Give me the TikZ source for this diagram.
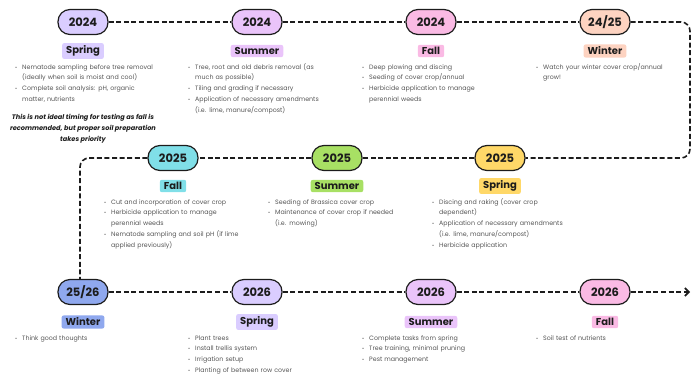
\documentclass[tikz,border=0pt]{standalone}
\usepackage{fontspec}
\setmainfont{Poppins}
\usepackage{enumitem}
\usetikzlibrary{arrows.meta, positioning, calc}
\definecolor{Ink}{RGB}{28, 28, 28}
\definecolor{Body}{RGB}{85, 85, 85}
\definecolor{Lilac}{RGB}{218, 205, 255}
\definecolor{Orchid}{RGB}{234, 196, 250}
\definecolor{Blush}{RGB}{250, 186, 228}
\definecolor{Peach}{RGB}{253, 211, 193}
\definecolor{Aqua}{RGB}{128, 223, 232}
\definecolor{Lime}{RGB}{168, 224, 100}
\definecolor{Butter}{RGB}{255, 216, 104}
\definecolor{Cornflower}{RGB}{143, 168, 238}
\tikzset{
  yearpill/.style={draw=Ink, line width=1.2pt, rounded corners=12pt, minimum width=50pt,
    minimum height=25pt, inner sep=0pt, font=\bfseries\fontsize{11.5}{13}\selectfont, text=Ink},
  seasontag/.style={rounded corners=2pt, inner xsep=4pt, inner ysep=2.5pt,
    font=\bfseries\fontsize{10}{11}\selectfont, text=Ink},
  tasklist/.style={anchor=north west, text width=180pt, align=left, inner sep=0pt,
    font=\fontsize{6.3}{10.8}\selectfont, text=Body},
  timeline/.style={Ink, line width=1.6pt, dash pattern=on 5pt off 2.6pt}
}
\newcommand{\tasks}[1]{\begin{itemize}[leftmargin=10pt, labelsep=5pt, itemsep=0pt, topsep=0pt,
  parsep=0pt, partopsep=0pt, label={\tiny\textbullet}]#1\end{itemize}}

\begin{document}
\begin{tikzpicture}[x=1pt, y=-1pt]
  \useasboundingbox (0,0) rectangle (699,375);
  % Row 1: 2024
  \node[yearpill, fill=Lilac] (sp24) at (83,22) {2024};
  \node[yearpill, fill=Orchid] (su24) at (257,22) {2024};
  \node[yearpill, fill=Blush] (fa24) at (431,22) {2024};
  \node[yearpill, fill=Peach] (wi24) at (605,22) {24/25};
  \node[seasontag, fill=Lilac] (sp24tag) at (83,51) {Spring};
  \node[seasontag, fill=Orchid] (su24tag) at (257,51) {Summer};
  \node[seasontag, fill=Blush] (fa24tag) at (431,51) {Fall};
  \node[seasontag, fill=Peach] (wi24tag) at (605,51) {Winter};
  \node[tasklist] (sp24list) at (12,58) {\tasks{
    \item Nematode sampling before tree removal\\(ideally when soil is moist and cool)
    \item Complete soil analysis: pH, organic\\matter, nutrients}};
  \node[tasklist] (su24list) at (185,58) {\tasks{
    \item Tree, root and old debris removal (as\\much as possible)
    \item Tiling and grading if necessary
    \item Application of necessary amendments\\(i.e. lime, manure/compost)}};
  \node[tasklist] (fa24list) at (359,58) {\tasks{
    \item Deep plowing and discing
    \item Seeding of cover crop/annual
    \item Herbicide application to manage\\perennial weeds}};
  \node[tasklist] (wi24list) at (533,58) {\tasks{
    \item Watch your winter cover crop/annual\\grow!}};
  \node[align=center, text=Ink, font=\bfseries\itshape\fontsize{6.6}{11}\selectfont]
    (note) at (83,129) {This is not ideal timing for testing as fall is\\recommended, but proper soil preparation\\takes priority};
  % Row 2: 2025
  \node[yearpill, fill=Aqua] (fa25) at (173,158) {2025};
  \node[yearpill, fill=Lime] (su25) at (337,158) {2025};
  \node[yearpill, fill=Butter] (sp25) at (500,158) {2025};
  \node[seasontag, fill=Aqua] (fa25tag) at (173,186) {Fall};
  \node[seasontag, fill=Lime] (su25tag) at (337,186) {Summer};
  \node[seasontag, fill=Butter] (sp25tag) at (500,186) {Spring};
  \node[tasklist] (fa25list) at (101,193) {\tasks{
    \item Cut and incorporation of cover crop
    \item Herbicide application to manage\\perennial weeds
    \item Nematode sampling and soil pH (if lime\\applied previously)}};
  \node[tasklist] (su25list) at (265,193) {\tasks{
    \item Seeding of Brassica cover crop
    \item Maintenance of cover crop if needed\\(i.e. mowing)}};
  \node[tasklist] (sp25list) at (429,193) {\tasks{
    \item Discing and raking (cover crop\\dependent)
    \item Application of necessary amendments\\(i.e. lime, manure/compost)
    \item Herbicide application}};
  % Row 3: 2026
  \node[yearpill, fill=Cornflower] (wi26) at (83,292) {25/26};
  \node[yearpill, fill=Lilac] (sp26) at (257,292) {2026};
  \node[yearpill, fill=Orchid] (su26) at (431,292) {2026};
  \node[yearpill, fill=Blush] (fa26) at (605,292) {2026};
  \node[seasontag, fill=Cornflower] (wi26tag) at (83,322) {Winter};
  \node[seasontag, fill=Lilac] (sp26tag) at (257,322) {Spring};
  \node[seasontag, fill=Orchid] (su26tag) at (431,322) {Summer};
  \node[seasontag, fill=Blush] (fa26tag) at (605,322) {Fall};
  \node[tasklist] (wi26list) at (12,329) {\tasks{
    \item Think good thoughts}};
  \node[tasklist] (sp26list) at (185,329) {\tasks{
    \item Plant trees
    \item Install trellis system
    \item Irrigation setup
    \item Planting of between row cover}};
  \node[tasklist] (su26list) at (359,329) {\tasks{
    \item Complete tasks from spring
    \item Tree training, minimal pruning
    \item Pest management}};
  \node[tasklist] (fa26list) at (533,329) {\tasks{
    \item Soil test of nutrients}};
  % Timeline
  \coordinate (rturn) at (690,22);
  \coordinate (tlend) at (690,292);
  \draw[timeline] (sp24) -- (su24);
  \draw[timeline] (su24) -- (fa24);
  \draw[timeline] (fa24) -- (wi24);
  \draw[timeline, rounded corners=9pt] (wi24) -- (rturn) |- (sp25);
  \draw[timeline] (sp25) -- (su25);
  \draw[timeline] (su25) -- (fa25);
  \draw[timeline, rounded corners=9pt] (fa25) -| ([xshift=-3pt]wi26.north);
  \draw[timeline] (wi26) -- (sp26);
  \draw[timeline] (sp26) -- (su26);
  \draw[timeline] (su26) -- (fa26);
  \draw[timeline, -{Straight Barb[length=4pt, width=8pt]}] (fa26) -- (tlend);
\end{tikzpicture}
\end{document}
